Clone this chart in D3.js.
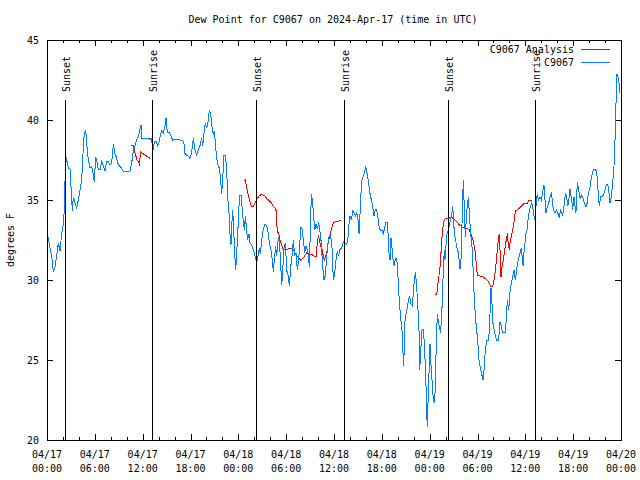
<!DOCTYPE html>
<html>
<head>
<meta charset="utf-8">
<script src="https://cdn.jsdelivr.net/npm/d3@7"></script>
<style>
  body { margin: 0; background: #fff; }
  text { font-family: "DejaVu Sans Mono", monospace; font-size: 10px; fill: #000; }
</style>
</head>
<body>
<svg id="chart" width="640" height="480"></svg>
<script>
// hours after 2024-04-17 00:00 UTC
const blueHours = [
  0.00,0.17,0.38,0.59,0.79,1.00,1.21,1.42,1.63,1.84,2.05,2.17,2.34,2.47,2.68,2.88,3.01,3.18,3.30,3.51,3.72,3.93,4.14,4.35,4.47,4.64,4.85,4.97,5.18,5.39,5.60,5.81,5.94,6.10,6.27,6.44,6.65,6.86,7.07,7.27,7.48,7.69,7.90,8.11,8.32,8.53,8.74,8.95,9.16,9.36,9.57,9.99,10.41,10.62,10.83,11.04,11.25,11.45,11.66,11.79,11.87,12.29,12.71,12.92,13.13,13.25,13.46,13.67,13.88,14.05,
  14.18,14.38,14.59,14.80,14.93,15.10,15.35,15.56,15.76,16.06,16.47,16.68,17.02,17.18,17.31,17.52,17.73,17.94,18.15,18.36,18.57,18.77,18.98,19.19,19.40,19.53,19.74,19.86,20.03,20.24,20.36,20.53,20.66,20.86,20.99,21.11,21.28,21.49,21.62,21.78,21.91,22.03,22.20,22.37,22.54,22.66,22.83,22.95,23.08,23.21,23.29,23.41,23.54,23.67,23.79,23.92,24.04,24.21,24.38,24.50,24.63,24.75,24.88,25.04,25.17,25.34,25.46,25.67,25.88,26.09,26.30,26.51,26.63,26.76,26.93,27.13,27.34,27.55,27.76,27.89,28.10,28.26,28.39,28.51,28.68,28.81,29.02,29.14,29.31,29.43,29.56,29.68,
  29.90,30.07,30.28,30.40,30.57,30.73,30.90,31.07,31.24,31.40,31.57,31.74,31.86,31.99,32.16,32.32,32.49,32.66,32.78,32.91,33.03,33.16,33.29,33.41,33.58,33.75,33.91,34.08,34.25,34.41,34.58,34.75,34.92,35.08,35.25,35.42,35.58,35.75,35.92,36.09,36.25,36.42,36.59,36.75,36.96,37.17,37.38,37.59,37.76,37.88,38.01,38.18,38.34,38.51,38.68,38.85,39.01,39.14,39.26,39.35,39.51,39.68,39.85,39.97,40.10,40.22,40.35,40.52,40.68,40.85,41.02,41.19,41.35,41.52,41.69,41.86,42.02,42.19,42.36,42.52,42.69,42.78,42.90,43.03,43.15,43.32,43.44,43.57,43.70,43.86,43.99,44.11,44.24,44.36,44.53,44.66,44.74,
  44.91,45.12,45.45,45.66,45.83,46.04,46.20,46.37,46.54,46.62,46.70,46.75,46.87,47.04,47.21,47.33,47.46,47.54,47.62,47.71,47.79,47.92,48.04,48.13,48.29,48.46,48.59,48.67,48.80,48.96,49.09,49.38,49.55,49.71,49.84,49.92,50.13,50.34,50.76,50.89,51.05,51.18,51.39,51.60,51.81,51.93,52.01,52.14,52.22,52.35,52.47,52.64,52.85,53.06,53.18,53.31,53.48,53.60,53.77,54.02,54.19,54.36,54.69,54.82,54.98,55.15,55.40,55.48,55.57,55.69,55.82,55.94,56.15,56.40,56.65,56.82,56.99,57.16,57.49,57.66,57.74,57.91,58.12,58.33,58.58,58.75,59.00,59.25,59.50,59.71,59.83,
  60.08,60.25,60.38,60.58,60.79,60.92,61.09,61.21,61.34,61.50,61.63,61.84,62.01,62.17,62.34,62.47,62.59,62.76,62.93,63.09,63.26,63.39,63.51,63.72,63.93,64.14,64.26,64.43,64.56,64.68,64.85,65.02,65.18,65.31,65.43,65.60,65.81,65.94,66.10,66.23,66.35,66.52,66.69,66.86,67.06,67.19,67.36,67.52,67.69,67.90,68.11,68.32,68.53,68.74,68.95,69.15,69.28,69.45,69.61,69.78,69.99,70.20,70.33,70.50,70.62,70.79,70.95,71.12,71.25,71.37,71.50,71.62,71.75,71.83
];
const blueDew = [
  32.8,32.6,32.0,31.5,30.5,30.8,31.5,32.3,31.8,32.9,33.5,34.4,37.8,37.5,37.0,37.0,35.8,34.3,35.2,34.8,34.5,35.0,35.6,36.25,37.5,38.95,39.4,38.6,37.5,37.0,37.1,36.6,36.1,37.7,37.4,36.9,36.9,37.4,37.1,36.8,37.4,37.4,37.2,37.3,38.5,37.9,37.6,37.2,37.1,37.0,36.8,36.8,36.8,37.3,38.1,38.4,38.75,38.95,39.4,39.7,38.85,38.85,38.85,38.8,38.85,38.0,38.6,38.7,38.4,38.6,
  38.95,39.3,39.2,39.6,40.1,39.2,39.2,39.0,38.75,38.8,38.8,38.75,38.75,38.5,37.9,37.8,37.75,37.6,38.0,38.85,38.1,37.8,38.1,38.4,38.85,38.4,39.4,39.8,39.5,40.0,40.6,40.4,39.7,39.1,39.3,38.6,37.6,37.1,37.0,36.25,35.4,36.25,37.8,37.8,36.9,35.2,34.2,32.9,32.2,33.75,34.4,33.3,31.7,30.6,31.7,32.7,34.4,35.3,35.3,34.2,33.75,33.1,34.0,33.1,32.5,32.9,32.3,32.2,31.9,31.5,31.1,31.6,32.0,31.6,32.5,33.2,33.5,33.4,32.9,32.3,31.9,31.25,30.5,31.25,32.1,31.5,32.7,32.5,31.1,29.7,30.4,31.9,
  32.3,30.6,30.2,29.6,30.8,31.5,32.5,31.5,31.7,30.6,31.25,32.5,33.3,33.2,32.5,31.7,32.1,31.9,31.6,30.8,33.1,35.4,35.0,34.2,33.1,33.5,33.2,33.6,33.0,32.3,30.8,30.0,30.3,31.5,32.3,32.8,32.8,32.0,30.0,30.4,31.25,31.8,31.5,31.9,32.0,32.4,32.3,32.2,32.7,33.5,34.0,33.75,34.3,34.2,34.0,34.2,33.75,32.9,34.1,35.2,36.25,36.5,36.8,37.1,36.8,36.5,36.0,35.4,35.0,34.6,34.0,34.4,34.4,33.9,33.2,33.1,33.1,32.9,33.3,33.6,33.6,32.9,31.7,31.25,32.6,31.8,31.1,30.9,31.35,31.35,30.6,29.4,28.3,27.7,26.8,25.4,24.6,
  27.5,28.1,29.0,28.5,28.4,29.8,30.5,29.6,28.1,27.5,26.25,24.4,25.5,26.9,26.9,26.0,24.6,23.4,21.7,20.8,22.3,24.2,26.0,25.0,23.75,22.5,22.3,22.9,25.4,27.9,27.4,26.7,28.3,30.6,31.9,31.25,32.8,33.1,34.1,34.6,33.3,32.7,32.1,31.7,30.7,31.25,32.7,35.0,36.25,34.4,32.7,34.2,35.2,33.5,32.7,32.1,30.4,28.75,27.5,26.25,25.0,24.5,23.75,24.4,25.6,26.25,26.25,26.9,27.9,29.5,28.5,27.3,26.7,26.25,26.25,27.4,27.1,26.7,26.7,27.9,28.75,28.1,29.5,30.0,30.6,30.0,31.0,31.5,32.0,30.9,31.7,
  32.9,33.2,34.0,34.5,34.8,34.6,34.0,33.75,34.6,35.4,35.0,35.2,35.0,35.5,35.9,35.0,34.2,34.6,34.8,35.2,35.4,35.0,34.4,34.2,34.4,34.1,33.9,34.4,34.2,34.0,34.6,35.4,35.2,34.6,34.9,35.7,35.0,34.4,35.2,34.6,34.2,36.1,35.6,35.1,35.3,35.2,34.9,34.6,34.6,35.4,35.8,36.5,36.9,36.9,36.8,35.4,34.6,35.2,35.2,35.3,35.6,36.0,36.0,35.4,34.8,35.2,36.0,37.1,38.75,41.0,42.9,42.7,42.3,41.7
];

// analysis series, null = gap
const redHours = [
  10.54,10.83,10.95,11.12,11.29,11.45,11.58,11.75,12.92,
  18.0,
  24.75,24.88,25.04,25.25,25.46,25.67,25.88,26.09,26.30,26.51,26.72,26.93,27.13,27.34,27.55,27.76,27.97,28.18,28.39,28.60,28.72,28.81,28.93,29.06,29.23,29.43,29.65,30.07,30.48,30.82,30.99,31.24,31.53,31.82,32.16,32.57,32.91,33.20,33.49,33.75,33.91,34.04,34.16,34.33,34.50,34.66,34.79,34.96,35.08,35.21,35.33,35.50,35.63,35.79,36.00,36.34,36.67,36.92,
  42.0,
  48.67,48.88,49.00,49.13,49.30,49.42,49.55,49.71,49.84,50.13,50.47,50.76,50.97,51.18,51.47,51.81,52.14,52.43,52.77,52.98,53.14,53.39,53.56,53.73,53.85,53.98,54.31,54.65,54.94,55.23,55.48,55.65,55.90,56.07,56.19,56.32,56.45,56.57,56.65,56.74,56.82,56.95,57.07,57.24,57.37,57.49,57.66,57.74,57.87,57.99,58.08,58.24,58.41,58.58,58.75,59.00,59.25,59.50,59.75,59.96,60.25,60.50,60.79
];
const redDew = [
  38.4,38.4,38.1,37.8,37.5,37.4,37.25,38.0,37.6,
  null,
  36.2,36.25,35.8,35.3,34.9,34.6,34.6,34.8,35.0,35.2,35.3,35.35,35.3,35.25,35.1,35.0,34.9,34.8,34.6,34.5,34.4,33.5,33.0,32.9,32.5,32.2,31.9,31.9,32.0,32.0,31.8,31.6,31.4,31.25,31.4,31.7,31.6,31.6,31.5,31.5,32.3,32.8,32.5,32.1,31.9,31.5,31.25,31.5,31.7,32.1,32.5,32.8,33.1,33.4,33.6,33.65,33.7,33.75,
  null,
  29.1,29.1,29.6,30.1,30.8,31.7,32.7,33.5,33.8,33.85,33.9,33.9,33.85,33.75,33.6,33.4,33.3,33.3,33.2,33.15,32.9,32.6,32.2,31.7,31.0,30.3,30.25,30.2,30.1,30.0,29.8,29.6,29.6,30.0,30.4,31.0,31.7,32.3,32.7,32.9,31.9,30.2,30.8,31.25,31.7,32.1,32.7,32.8,32.3,31.9,32.3,32.7,33.1,33.6,34.3,34.4,34.5,34.6,34.75,34.8,34.8,35.0,35.0
];

const sunTimes = ["2024-04-17T02:18Z", "2024-04-17T13:13Z", "2024-04-18T02:15Z",
                  "2024-04-18T13:17Z", "2024-04-19T02:20Z", "2024-04-19T13:15Z"];
const sunLabels = ["Sunset", "Sunrise", "Sunset", "Sunrise", "Sunset", "Sunrise"];

const yTicks = [20, 25, 30, 35, 40, 45];
const seriesNames = ["C9067 Analysis", "C9067"];
const seriesColors = ["#ff0000", "#0080ff"];

const t0 = Date.UTC(2024, 3, 17, 0, 0);
const toDate = h => new Date(t0 + h * 3600e3);

const plotL = 47, plotR = 621, plotT = 40, plotB = 440;

const svg = d3.select("#chart");

const x = d3.scaleUtc()
  .domain([toDate(0), toDate(72)])
  .range([plotL, plotR]);
const y = d3.scaleLinear()
  .domain([20, 45])
  .range([plotB, plotT]);

const majorTicks = d3.utcHour.every(6).range(toDate(0), toDate(72.01));
const minorTicks = d3.utcHour.every(2).range(toDate(0), toDate(72.01));

// ticks, gnuplot style: pointing inward on all four sides
function tickAxis(axis, ty) {
  const g = svg.append("g")
    .attr("transform", `translate(0,${ty})`)
    .attr("shape-rendering", "crispEdges")
    .call(axis);
  g.select(".domain").remove();
  g.selectAll("text").remove();
  return g;
}
tickAxis(d3.axisBottom(x).tickValues(minorTicks).tickSize(-3), plotB);
tickAxis(d3.axisBottom(x).tickValues(majorTicks).tickSize(-6), plotB);
tickAxis(d3.axisTop(x).tickValues(minorTicks).tickSize(-3), plotT);
tickAxis(d3.axisTop(x).tickValues(majorTicks).tickSize(-6), plotT);

const yl = svg.append("g")
  .attr("transform", `translate(${plotL},0)`)
  .attr("shape-rendering", "crispEdges")
  .call(d3.axisLeft(y).tickValues(yTicks).tickSize(-6).tickPadding(8));
yl.select(".domain").remove();
yl.selectAll("text").attr("font-family", null).attr("font-size", null);
const yr = svg.append("g")
  .attr("transform", `translate(${plotR},0)`)
  .attr("shape-rendering", "crispEdges")
  .call(d3.axisRight(y).tickValues(yTicks).tickSize(-6));
yr.select(".domain").remove();
yr.selectAll("text").remove();

// x labels, two lines
const fmtDay = d3.utcFormat("%m/%d"), fmtHour = d3.utcFormat("%H:%M");
const xl = svg.append("g").attr("text-anchor", "middle");
majorTicks.forEach(t => {
  xl.append("text").attr("x", x(t)).attr("y", 458).text(fmtDay(t));
  xl.append("text").attr("x", x(t)).attr("y", 472).text(fmtHour(t));
});

// data
const blue = blueHours.map((h, i) => ({t: toDate(h), v: blueDew[i]}));
const red = redHours.map((h, i) => ({t: toDate(h), v: redDew[i]}));
const line = d3.line()
  .defined(d => d.v != null)
  .x(d => x(d.t))
  .y(d => y(d.v));

svg.append("path")
  .datum(red)
  .attr("fill", "none")
  .attr("stroke", seriesColors[0])
  .attr("stroke-width", 1)
  .attr("shape-rendering", "crispEdges")
  .attr("d", line);
svg.append("path")
  .datum(blue)
  .attr("fill", "none")
  .attr("stroke", seriesColors[1])
  .attr("stroke-width", 1)
  .attr("shape-rendering", "crispEdges")
  .attr("d", line);

// sunrise / sunset markers
sunTimes.forEach((s, i) => {
  const sx = Math.round(x(new Date(s))) + 0.5;
  svg.append("line")
    .attr("x1", sx).attr("x2", sx)
    .attr("y1", 100).attr("y2", plotB)
    .attr("stroke", "#000")
    .attr("shape-rendering", "crispEdges");
  svg.append("text")
    .attr("transform", `translate(${sx + 4.5},92) rotate(-90)`)
    .attr("text-anchor", "start")
    .text(sunLabels[i]);
});

// frame
svg.append("rect")
  .attr("x", plotL + 0.5).attr("y", plotT + 0.5)
  .attr("width", plotR - plotL).attr("height", plotB - plotT)
  .attr("fill", "none")
  .attr("stroke", "#000")
  .attr("shape-rendering", "crispEdges");

// legend
seriesNames.forEach((name, i) => {
  const ly = 49 + i * 13;
  svg.append("text")
    .attr("x", 574).attr("y", ly + 3.5)
    .attr("text-anchor", "end")
    .text(name);
  svg.append("line")
    .attr("x1", 581).attr("x2", 610)
    .attr("y1", ly + 0.5).attr("y2", ly + 0.5)
    .attr("stroke", seriesColors[i])
    .attr("shape-rendering", "crispEdges");
});

// titles
svg.append("text")
  .attr("x", 333).attr("y", 23)
  .attr("text-anchor", "middle")
  .text("Dew Point for C9067 on 2024-Apr-17 (time in UTC)");
svg.append("text")
  .attr("transform", "translate(14,240) rotate(-90)")
  .attr("text-anchor", "middle")
  .text("degrees F");
</script>
</body>
</html>
